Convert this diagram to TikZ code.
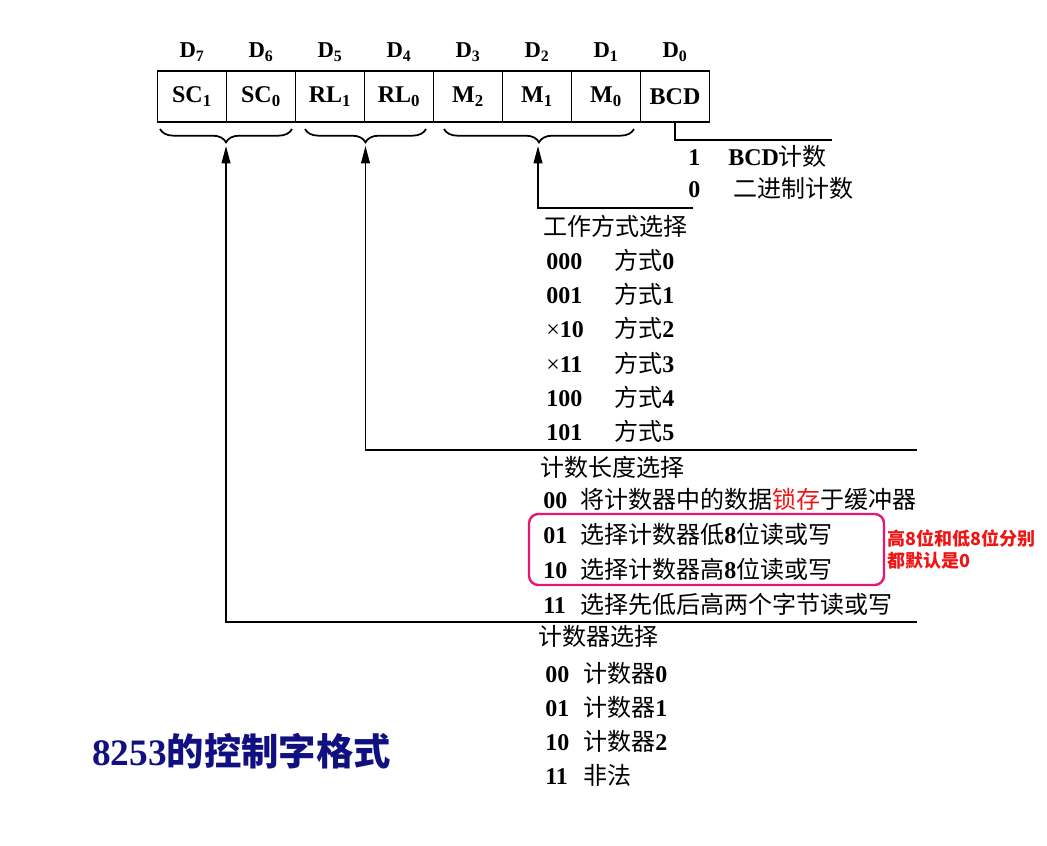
\documentclass[tikz,border=0pt]{standalone}
\usepackage{fontspec}
\setmainfont{Liberation Serif}
\newfontfamily\cjk{Noto Sans CJK SC}
\usetikzlibrary{arrows.meta, decorations.pathreplacing, positioning}

\definecolor{navy}{RGB}{16,16,128}
\definecolor{hlpink}{RGB}{232,22,112}
\definecolor{notered}{RGB}{240,20,20}

\newcommand{\zh}[1]{{\cjk\mdseries #1}}

\begin{document}
\begin{tikzpicture}[
    x=0.75pt, y=-0.75pt,
    >={Triangle[length=13pt, width=6.5pt]},
    cell/.style={draw, line width=1.3pt, inner sep=0pt, outer sep=0pt, minimum width=51.75pt, minimum height=38.25pt, font=\fontsize{18}{20}\selectfont\bfseries},
    bitlab/.style={inner sep=0pt, font=\fontsize{17}{20}\selectfont\bfseries},
    item/.style={anchor=base west, inner sep=0pt, font=\fontsize{18}{22}\selectfont\bfseries},
    grpbrace/.style={decorate, decoration={brace, amplitude=10pt, mirror}, line width=1.3pt},
    wire/.style={line width=1.3pt},
    hlbox/.style={draw=hlpink, line width=1.8pt, rounded corners=7pt, minimum width=266.25pt, minimum height=53.25pt},
    note/.style={anchor=west, inner sep=0pt, align=left, text=notered, font={\cjk\bfseries\fontsize{13.5}{16.5}\selectfont}}
]
\useasboundingbox (0,0) rectangle (1047,846);

% control word register
\node[cell] (c7) at (192,96.5) {SC\textsubscript{1}};
\node[cell, right=0pt of c7] (c6) {SC\textsubscript{0}};
\node[cell, right=0pt of c6] (c5) {RL\textsubscript{1}};
\node[cell, right=0pt of c5] (c4) {RL\textsubscript{0}};
\node[cell, right=0pt of c4] (c3) {M\textsubscript{2}};
\node[cell, right=0pt of c3] (c2) {M\textsubscript{1}};
\node[cell, right=0pt of c2] (c1) {M\textsubscript{0}};
\node[cell, right=0pt of c1] (c0) {BCD};

\node[bitlab, above=7pt of c7] (d7) {D\textsubscript{7}};
\node[bitlab, above=7pt of c6] (d6) {D\textsubscript{6}};
\node[bitlab, above=7pt of c5] (d5) {D\textsubscript{5}};
\node[bitlab, above=7pt of c4] (d4) {D\textsubscript{4}};
\node[bitlab, above=7pt of c3] (d3) {D\textsubscript{3}};
\node[bitlab, above=7pt of c2] (d2) {D\textsubscript{2}};
\node[bitlab, above=7pt of c1] (d1) {D\textsubscript{1}};
\node[bitlab, above=7pt of c0] (d0) {D\textsubscript{0}};

% field braces
\draw[grpbrace] (160,129) -- (292,129);
\draw[grpbrace] (305,129) -- (426,129);
\draw[grpbrace] (444,129) -- (634,129);
\coordinate (sctip) at (226,146);
\coordinate (rltip) at (365.5,146);
\coordinate (mtip) at (538,146);

% BCD bit
\coordinate (bcdend) at (832,140);
\draw[wire] (c0.south) |- (bcdend);
\node[item] (bcd1) at (688,165.5) {\makebox[30pt][l]{1}BCD\zh{计数}};
\node[item] (bcd0) at (688,197.5) {\makebox[33.75pt][l]{0}\zh{二进制计数}};

% mode bits
\coordinate (mend) at (693,208);
\draw[wire, ->] (mend) -| (mtip);
\node[item] (mhead) at (543,235.5) {\zh{工作方式选择}};
\node[item] (m0) at (546,269.5) {\makebox[51pt][l]{000}\zh{方式}0};
\node[item] (m1) at (546,303.5) {\makebox[51pt][l]{001}\zh{方式}1};
\node[item] (m2) at (546,337.5) {\makebox[51pt][l]{\mdseries×\bfseries 10}\zh{方式}2};
\node[item] (m3) at (546,372.5) {\makebox[51pt][l]{\mdseries×\bfseries 11}\zh{方式}3};
\node[item] (m4) at (546,406.5) {\makebox[51pt][l]{100}\zh{方式}4};
\node[item] (m5) at (546,440.5) {\makebox[51pt][l]{101}\zh{方式}5};

% read/load bits
\coordinate (rlend) at (917,450);
\draw[wire, ->] (rlend) -| (rltip);
\node[item] (rlhead) at (540,476.5) {\zh{计数长度选择}};
\node[item] (rl0) at (543,508.5) {\makebox[27.75pt][l]{00}\zh{将计数器中的数据}\textcolor{notered}{\zh{锁存}}\zh{于缓冲器}};
\node[item] (rl1) at (543,543.5) {\makebox[27.75pt][l]{01}\zh{选择计数器低}8\zh{位读或写}};
\node[item] (rl2) at (543,578.5) {\makebox[27.75pt][l]{10}\zh{选择计数器高}8\zh{位读或写}};
\node[item] (rl3) at (543,613.5) {\makebox[27.75pt][l]{11}\zh{选择先低后高两个字节读或写}};
\node[hlbox] (hl) at (706.5,549.5) {};
\node[note] (hlnote) at (887,549.5) {高8位和低8位分别\\都默认是0};

% select counter bits
\coordinate (scend) at (917,622);
\draw[wire, ->] (scend) -| (sctip);
\node[item] (schead) at (538,645.5) {\zh{计数器选择}};
\node[item] (sc0) at (545,682.5) {\makebox[28.5pt][l]{00}\zh{计数器}0};
\node[item] (sc1) at (545,716.5) {\makebox[28.5pt][l]{01}\zh{计数器}1};
\node[item] (sc2) at (545,750.5) {\makebox[28.5pt][l]{10}\zh{计数器}2};
\node[item] (sc3) at (545,784.5) {\makebox[28.5pt][l]{11}\zh{非法}};

\node[anchor=base west, inner sep=0pt, text=navy, font=\fontsize{28}{30}\selectfont\bfseries] (title) at (92,765) {8253{\cjk\bfseries 的控制字格式}};

\end{tikzpicture}
\end{document}
